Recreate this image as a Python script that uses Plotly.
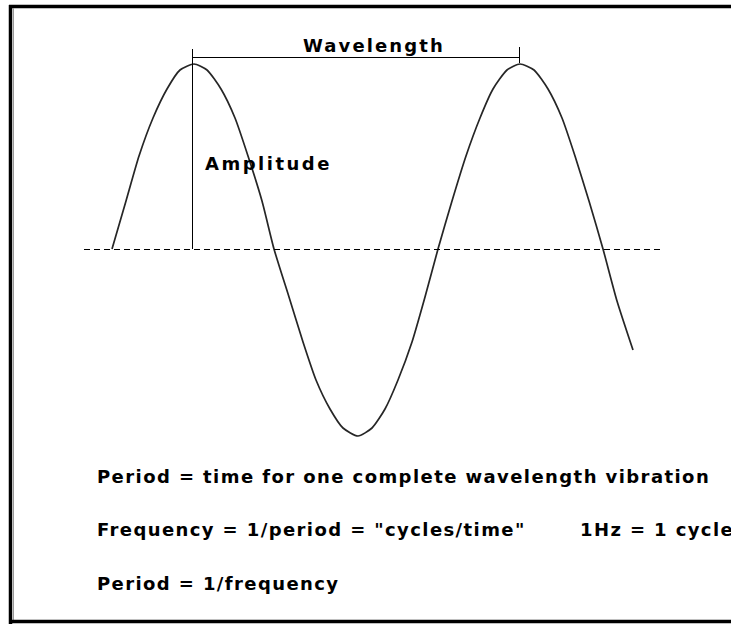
import plotly.graph_objects as go

# ---- data ----
# time axis (arbitrary units, one unit ~ one pixel) and displacement
wave_t = [112, 126, 139, 153, 167, 180, 194, 207, 221, 235, 248, 262, 274,
          289, 303, 316, 330, 343, 358, 372, 385, 398, 412, 425, 438,
          452, 466, 480, 493, 507, 520, 534, 548, 562, 575, 589, 603,
          617, 633]
wave_d = [0, 48, 93, 131, 160, 179, 185, 179, 160, 131, 93, 48, 0,
          -48, -93, -131, -160, -179, -187, -179, -160, -131, -93, -48, 0,
          48, 93, 131, 160, 179, 185, 179, 160, 131, 93, 48, 0,
          -52, -101]

label_wavelength = "Wavelength"
label_amplitude = "Amplitude"
text_lines = [
    'Period = time for one complete wavelength vibration',
    'Frequency = 1/period = "cycles/time"',
    'Period = 1/frequency',
]
text_hz = "1Hz = 1 cycle"

W, H = 731, 624
ZERO = 249  # pixel row of the zero line


def px(x):
    return x / W


def py(y):
    return 1 - y / H


fig = go.Figure()
fig.add_trace(go.Scatter(
    x=wave_t, y=wave_d, mode="lines",
    line=dict(color="#262626", width=1.7, shape="spline", smoothing=0.6),
    hoverinfo="skip", showlegend=False,
))

shapes = []
# frame
shapes.append(dict(type="line", xref="paper", yref="paper", x0=px(9), x1=px(731), y0=py(6.5), y1=py(6.5),
                   line=dict(color="black", width=3.5)))
shapes.append(dict(type="line", xref="paper", yref="paper", x0=px(10.5), x1=px(10.5), y0=py(5), y1=py(624),
                   line=dict(color="black", width=3.5)))
shapes.append(dict(type="line", xref="paper", yref="paper", x0=px(13.5), x1=px(13.5), y0=py(8), y1=py(620),
                   line=dict(color="#9a9a9a", width=1)))
shapes.append(dict(type="line", xref="paper", yref="paper", x0=px(9), x1=px(731), y0=py(621.5), y1=py(621.5),
                   line=dict(color="black", width=3.5)))
# dashed zero line
shapes.append(dict(type="line", xref="x", yref="y", x0=84, x1=662, y0=-0.5, y1=-0.5,
                   line=dict(color="black", width=1, dash="6px,4px")))
# amplitude marker
shapes.append(dict(type="line", xref="x", yref="y", x0=192.5, x1=192.5, y0=ZERO - 49, y1=0,
                   line=dict(color="black", width=1)))
# wavelength marker
shapes.append(dict(type="line", xref="x", yref="y", x0=192.5, x1=519.5, y0=ZERO - 57.5, y1=ZERO - 57.5,
                   line=dict(color="black", width=1)))
shapes.append(dict(type="line", xref="x", yref="y", x0=519.5, x1=519.5, y0=ZERO - 47, y1=ZERO - 63,
                   line=dict(color="black", width=1)))

FONT = dict(family="DejaVu Sans", size=18, color="black", weight="bold")


def spaced(s, sp):
    return '<span style="letter-spacing:%spx">%s</span>' % (sp, s)


annotations = [
    dict(x=px(302), y=py(46), text=spaced(label_wavelength, 2.1)),
    dict(x=px(204), y=py(164), text=spaced(label_amplitude, 2.5)),
    dict(x=px(96), y=py(476), text=spaced(text_lines[0], 1.42)),
    dict(x=px(96), y=py(529.5), text=spaced(text_lines[1], 1.4)),
    dict(x=px(579), y=py(529.5), text=spaced(text_hz, 1.4)),
    dict(x=px(96), y=py(583), text=spaced(text_lines[2], 1.4)),
]
for a in annotations:
    a.update(xref="paper", yref="paper", xanchor="left", yanchor="middle",
             showarrow=False, font=FONT, borderpad=0)

fig.update_layout(
    width=W, height=H,
    margin=dict(l=0, r=0, t=0, b=0),
    paper_bgcolor="white", plot_bgcolor="white",
    xaxis=dict(range=[0, W], visible=False, fixedrange=True),
    yaxis=dict(range=[ZERO - H, ZERO], visible=False, fixedrange=True),
    shapes=shapes, annotations=annotations,
    showlegend=False,
)

fig.write_html("out.html", config={"displayModeBar": False},
               post_script="document.body.style.margin='0';document.body.style.overflow='hidden';")
